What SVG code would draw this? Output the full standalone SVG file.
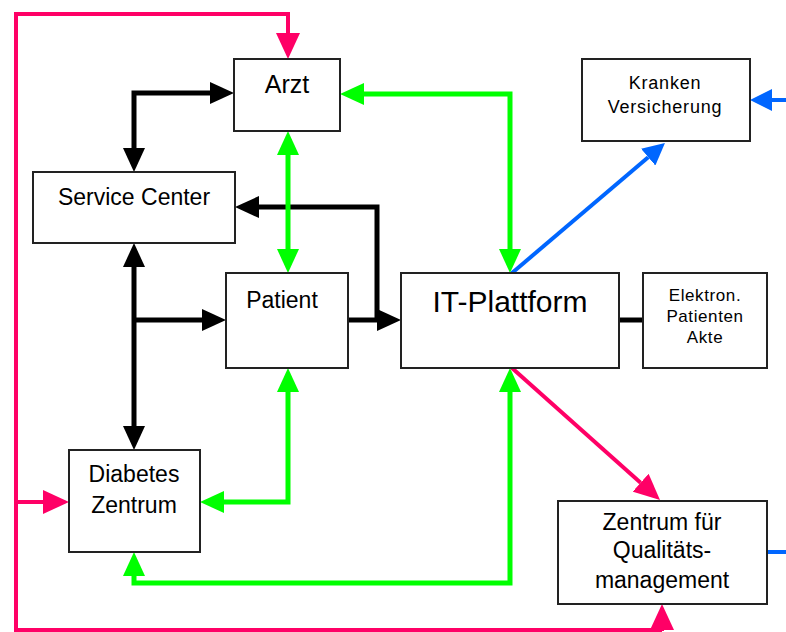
<svg xmlns="http://www.w3.org/2000/svg" width="786" height="632" viewBox="0 0 786 632">
<style>
.box{fill:#fff;stroke:#222;stroke-width:2}
.t{font-family:"Liberation Sans",Arial,sans-serif;fill:#000;text-anchor:middle}
.c{fill:none;stroke-linejoin:miter}
.k{stroke:#000;stroke-width:5}
.g{stroke:#00ff00;stroke-width:5}
.p{stroke:#ff0066;stroke-width:4}
.b{stroke:#0066ff;stroke-width:4}
</style>
<defs>
<marker id="ak" viewBox="0 0 24 22" refX="0" refY="11" markerWidth="24" markerHeight="22" markerUnits="userSpaceOnUse" orient="auto-start-reverse"><path d="M0,0 L24,11 L0,22 z" fill="#000"/></marker>
<marker id="ag" viewBox="0 0 24 22" refX="0" refY="11" markerWidth="24" markerHeight="22" markerUnits="userSpaceOnUse" orient="auto-start-reverse"><path d="M0,0 L24,11 L0,22 z" fill="#00ff00"/></marker>
<marker id="ap" viewBox="0 0 26 24" refX="0" refY="12" markerWidth="26" markerHeight="24" markerUnits="userSpaceOnUse" orient="auto-start-reverse"><path d="M0,0 L26,12 L0,24 z" fill="#ff0066"/></marker>
<marker id="ab" viewBox="0 0 22 22" refX="0" refY="11" markerWidth="22" markerHeight="22" markerUnits="userSpaceOnUse" orient="auto-start-reverse"><path d="M0,0 L22,11 L0,22 z" fill="#0066ff"/></marker>
</defs>
<rect width="786" height="632" fill="#fff"/>
<g id="connectors">
<path class="c k" d="M134,148 V93 H210" marker-start="url(#ak)" marker-end="url(#ak)"/>
<path class="c k" d="M134,267 V426" marker-start="url(#ak)" marker-end="url(#ak)"/>
<path class="c k" d="M134,320 H202" marker-end="url(#ak)"/>
<path class="c k" d="M348,320 H377" marker-end="url(#ak)"/>
<path class="c k" d="M377,322 V207 H259" marker-end="url(#ak)"/>
<path class="c k" d="M619,320 H643"/>
<path class="c g" d="M510,249 V94 H364" marker-start="url(#ag)" marker-end="url(#ag)"/>
<path class="c g" d="M288,155 V249" marker-start="url(#ag)" marker-end="url(#ag)"/>
<path class="c g" d="M288,392 V502 H224" marker-start="url(#ag)" marker-end="url(#ag)"/>
<path class="c g" d="M134,576 V583 H510 V392" marker-start="url(#ag)" marker-end="url(#ag)"/>
<path class="c p" d="M288,33 V14 H16 V630 H662"/>
<path class="c p" d="M288,32 V33" marker-end="url(#ap)"/>
<path class="c p" d="M662,631 V630" marker-end="url(#ap)"/>
<path class="c p" d="M16,502 H43" marker-end="url(#ap)"/>
<path class="c p" d="M512,368 L640.6,482.7" marker-end="url(#ap)"/>
<path class="c b" d="M512,273 L648.2,157.2" marker-end="url(#ab)"/>
<path class="c b" d="M786,100 H772" marker-end="url(#ab)"/>
<path class="c b" d="M767,552 H786"/>
</g>
<g id="arzt"><rect class="box" x="234" y="59" width="106" height="72"/><text class="t" x="287" y="93" font-size="25">Arzt</text></g>
<g id="service-center"><rect class="box" x="33" y="172" width="202" height="71"/><text class="t" x="134" y="205" font-size="23">Service Center</text></g>
<g id="patient"><rect class="box" x="226" y="273" width="122" height="95"/><text class="t" x="282" y="308" font-size="23">Patient</text></g>
<g id="it-plattform"><rect class="box" x="401" y="273" width="218" height="95"/><text class="t" x="510" y="312" font-size="30">IT-Plattform</text></g>
<g id="epa"><rect class="box" x="643" y="273" width="124" height="95"/><text class="t" x="705" y="301" font-size="17" letter-spacing="0.6">Elektron.</text><text class="t" x="705" y="322" font-size="17" letter-spacing="0.6">Patienten</text><text class="t" x="705" y="343" font-size="17" letter-spacing="0.6">Akte</text></g>
<g id="diabetes-zentrum"><rect class="box" x="69" y="450" width="131" height="102"/><text class="t" x="134" y="482" font-size="23">Diabetes</text><text class="t" x="134" y="513" font-size="23">Zentrum</text></g>
<g id="kranken-versicherung"><rect class="box" x="582" y="59" width="168" height="82"/><text class="t" x="665" y="89" font-size="18" letter-spacing="0.8">Kranken</text><text class="t" x="665" y="113" font-size="18" letter-spacing="0.8">Versicherung</text></g>
<g id="zentrum-qm"><rect class="box" x="558" y="501" width="209" height="103"/><text class="t" x="662" y="530" font-size="23">Zentrum für</text><text class="t" x="662" y="558" font-size="23">Qualitäts-</text><text class="t" x="662" y="588" font-size="23">management</text></g>
</svg>
